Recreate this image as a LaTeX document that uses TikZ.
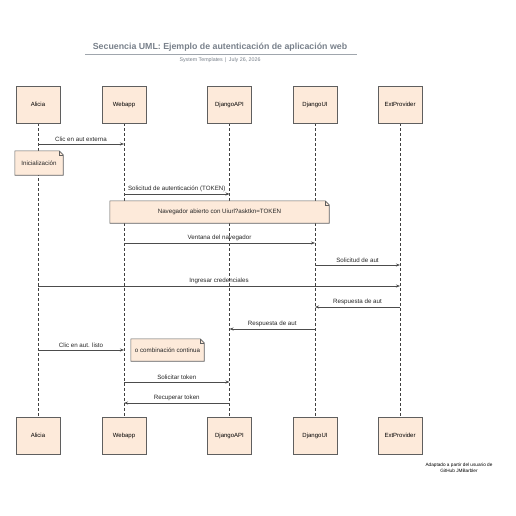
\documentclass[tikz,border=0pt]{standalone}
\usepackage{fontspec}
\setmainfont{Liberation Sans}
\usetikzlibrary{arrows.meta,backgrounds}
\definecolor{peach}{RGB}{253,234,218}
\definecolor{edge}{RGB}{95,95,95}
\definecolor{titlegray}{RGB}{120,128,138}
\tikzset{
  actor/.style={draw=edge, fill=peach, line width=0.8pt, minimum width=44pt, minimum height=37pt, inner sep=0pt, font=\fontsize{6}{7}\selectfont},
  life/.style={draw=black!75, dash pattern=on 3pt off 2pt, line width=0.6pt},
  msg/.style={draw=black!70, line width=0.6pt, -{Stealth[length=4pt,width=3pt]}},
  lbl/.style={font=\fontsize{6.2}{7}\selectfont, inner sep=0pt, text=black!85},
  notebox/.style={inner sep=0pt, font=\fontsize{6.2}{7}\selectfont, text=black!85}
}
% folded corner behind a note node
\newcommand{\notefold}[1]{%
  \begin{pgfonlayer}{background}
  \draw[draw=edge, fill=peach, line width=0.6pt] (#1.south west) -- (#1.north west) -- ([xshift=-4pt]#1.north east) -- ([yshift=-4pt]#1.north east) -- (#1.south east) -- cycle;
  \draw[draw=edge, line width=0.5pt] ([xshift=-4pt]#1.north east) -- ([xshift=-4pt,yshift=-4pt]#1.north east) -- ([yshift=-4pt]#1.north east);
  \end{pgfonlayer}}
\begin{document}
\begin{tikzpicture}[x=1pt,y=-1pt]
\useasboundingbox (0,0) rectangle (516,516);
\node[font=\bfseries\fontsize{8.8}{10}\selectfont, text=titlegray] (title) at (220,47) {Secuencia UML: Ejemplo de autenticación de aplicación web};
\coordinate (rulel) at (85,54.5);
\coordinate (ruler) at (357,54.5);
\draw[titlegray!70, line width=0.5pt] (rulel) -- (ruler);
\node[font=\fontsize{5.3}{6}\selectfont, text=titlegray] (sub) at (220,60) {System Templates \,|\, July 26, 2026};
\node[actor] (alicia) at (38,104.5){Alicia};
\node[actor] (webapp) at (124,104.5){Webapp};
\node[actor] (api) at (229.5,104.5){DjangoAPI};
\node[actor] (ui) at (315,104.5){DjangoUI};
\node[actor] (ext) at (400,104.5){ExtProvider};
\node[actor] (alicia2) at (38,435.5){Alicia};
\node[actor] (webapp2) at (124,435.5){Webapp};
\node[actor] (api2) at (229.5,435.5){DjangoAPI};
\node[actor] (ui2) at (315,435.5){DjangoUI};
\node[actor] (ext2) at (400,435.5){ExtProvider};
\begin{pgfonlayer}{background}
\draw[life](alicia) -- (alicia2);
\draw[life](webapp) -- (webapp2);
\draw[life](api) -- (api2);
\draw[life](ui) -- (ui2);
\draw[life](ext) -- (ext2);
\end{pgfonlayer}
\coordinate (a1) at (38,144); \coordinate (w1) at (124,144);
\coordinate (w3) at (124,194); \coordinate (p3) at (229.5,194);
\coordinate (w5) at (124,243); \coordinate (u5) at (315,243);
\coordinate (u6) at (315,265); \coordinate (e6) at (400,265);
\coordinate (a7) at (38,286); \coordinate (e7) at (400,286);
\coordinate (e8) at (400,307); \coordinate (u8) at (315,307);
\coordinate (u9) at (315,329); \coordinate (p9) at (229.5,329);
\coordinate (a10) at (38,350); \coordinate (w10) at (124,350);
\coordinate (w12) at (124,382); \coordinate (p12) at (229.5,382);
\coordinate (p13) at (229.5,403); \coordinate (w13) at (124,403);
\draw[msg](a1) -- node[lbl, above=2pt]{Clic en aut externa} (w1);
\node[notebox, minimum width=48pt, minimum height=24pt] (init) at (39,163){Inicialización};
\notefold{init}
\draw[msg](w3) -- node[lbl, above=2pt]{Solicitud de autenticación (TOKEN)} (p3);
\node[notebox, minimum width=219pt, minimum height=22pt] (nav) at (219.5,212){Navegador abierto con Uiurl?asktkn=TOKEN};
\notefold{nav}
\draw[msg](w5) -- node[lbl, above=2pt]{Ventana del navegador} (u5);
\draw[msg](u6) -- node[lbl, above=2pt]{Solicitud de aut} (e6);
\draw[msg](a7) -- node[lbl, above=2pt]{Ingresar credenciales} (e7);
\draw[msg](e8) -- node[lbl, above=2pt]{Respuesta de aut} (u8);
\draw[msg](u9) -- node[lbl, above=2pt]{Respuesta de aut} (p9);
\draw[msg](a10) -- node[lbl, above=2pt]{Clic en aut. listo} (w10);
\node[notebox, minimum width=73pt, minimum height=22pt] (combo) at (167.5,350){o combinación continua};
\notefold{combo}
\draw[msg](w12) -- node[lbl, above=2pt]{Solicitar token} (p12);
\draw[msg](p13) -- node[lbl, above=2pt]{Recuperar token} (w13);
\node[font=\fontsize{4.7}{6}\selectfont, align=center] (credit) at (459,468){Adaptado a partir del usuario de\\GitHub JMBarbler};
\end{tikzpicture}
\end{document}
